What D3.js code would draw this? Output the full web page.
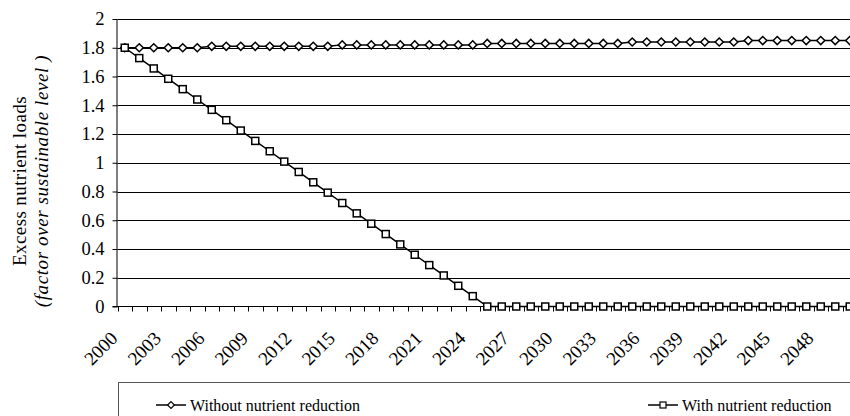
<!DOCTYPE html>
<html>
<head>
<meta charset="utf-8">
<script src="https://cdn.jsdelivr.net/npm/d3@7/dist/d3.min.js"></script>
<style>
  html, body { margin: 0; padding: 0; background: #fff; }
  text { font-family: "Liberation Serif", "Times New Roman", Times, serif; }
</style>
</head>
<body>
<svg id="chart" width="850" height="416"></svg>
<script>
// Years on the category axis
const years = [2000,2001,2002,2003,2004,2005,2006,2007,2008,2009,2010,2011,2012,2013,2014,2015,2016,2017,2018,2019,2020,2021,2022,2023,2024,2025,2026,2027,2028,2029,2030,2031,2032,2033,2034,2035,2036,2037,2038,2039,2040,2041,2042,2043,2044,2045,2046,2047,2048,2049,2050];

// Excess nutrient loads, no reduction measures
const withoutReduction = [1.80,1.80,1.80,1.80,1.80,1.80,1.81,1.81,1.81,1.81,1.81,1.81,1.81,1.81,1.81,1.82,1.82,1.82,1.82,1.82,1.82,1.82,1.82,1.82,1.82,1.83,1.83,1.83,1.83,1.83,1.83,1.83,1.83,1.83,1.83,1.84,1.84,1.84,1.84,1.84,1.84,1.84,1.84,1.85,1.85,1.85,1.85,1.85,1.85,1.85,1.85];

// Excess nutrient loads, with reduction measures
const withReduction = [1.800,1.728,1.656,1.584,1.512,1.440,1.368,1.296,1.224,1.152,1.080,1.008,0.936,0.864,0.792,0.720,0.648,0.576,0.504,0.432,0.360,0.288,0.216,0.144,0.072,0,0,0,0,0,0,0,0,0,0,0,0,0,0,0,0,0,0,0,0,0,0,0,0,0,0];

const yTicks = [0,0.2,0.4,0.6,0.8,1,1.2,1.4,1.6,1.8,2];
const xLabelYears = [2000,2003,2006,2009,2012,2015,2018,2021,2024,2027,2030,2033,2036,2039,2042,2045,2048];

const seriesNames = ["Without nutrient reduction", "With nutrient reduction"];

const svg = d3.select("#chart");

const plotLeft = 117.5, bandW = 14.5;
const x = d3.scaleBand().domain(years).range([plotLeft, plotLeft + bandW * years.length]).padding(0);
const y = d3.scaleLinear().domain([0, 2]).range([306.5, 19]);
const cx = d => x(d) + x.bandwidth() / 2;

// Horizontal gridlines
svg.append("g")
  .selectAll("line")
  .data(yTicks.filter(t => t > 0))
  .join("line")
  .attr("x1", plotLeft).attr("x2", x.range()[1])
  .attr("y1", d => Math.round(y(d)) + 0.5).attr("y2", d => Math.round(y(d)) + 0.5)
  .attr("stroke", "#000").attr("stroke-width", 1);

// Y axis
const yAxis = d3.axisLeft(y).tickValues(yTicks).tickSize(5).tickPadding(8)
  .tickFormat(d => d3.format("~g")(d));
const gy = svg.append("g").attr("transform", `translate(${plotLeft},0)`).call(yAxis)
  .attr("font-family", null).attr("font-size", null);
gy.select(".domain").attr("stroke", "#000").attr("d", `M-0.5,${y(2)}V${y(0)}`);
gy.selectAll(".tick line").attr("stroke", "#000");
gy.selectAll(".tick text").attr("font-size", 18.5).attr("fill", "#000");

// X axis with ticks between categories
const gx = svg.append("g").attr("transform", `translate(0,${y(0)})`);
gx.append("line").attr("x1", plotLeft - 5).attr("x2", x.range()[1])
  .attr("y1", 0).attr("y2", 0).attr("stroke", "#000");
gx.selectAll("line.tk")
  .data(years.concat([2051]))
  .join("line")
  .attr("class", "tk")
  .attr("x1", (d, i) => Math.round(plotLeft + i * bandW) + 0.5)
  .attr("x2", (d, i) => Math.round(plotLeft + i * bandW) + 0.5)
  .attr("y1", 0).attr("y2", 5).attr("stroke", "#000");
gx.selectAll("text")
  .data(xLabelYears)
  .join("text")
  .attr("transform", d => `translate(${cx(d) - 6},${33}) rotate(-45)`)
  .attr("text-anchor", "end")
  .attr("font-size", 19)
  .attr("fill", "#000")
  .text(d => d);

// Y axis title
const title = svg.append("text")
  .attr("transform", "translate(0,181) rotate(-90)")
  .attr("text-anchor", "middle")
  .attr("font-size", 19)
  .attr("fill", "#000");
title.append("tspan").attr("x", 0).attr("y", 26).attr("letter-spacing", 0.4).text("Excess nutrient loads");
title.append("tspan").attr("x", 0).attr("y", 48).attr("font-style", "italic")
  .attr("letter-spacing", 0.6).text("(factor over sustainable level )");

// Lines
const line = d3.line().x((d, i) => cx(years[i])).y(d => y(d));
const plot = svg.append("g");
[withoutReduction, withReduction].forEach(s => {
  plot.append("path").datum(s).attr("d", line)
    .attr("fill", "none").attr("stroke", "#000").attr("stroke-width", 1.5);
});

// Markers
const diamond = d3.symbol().type(d3.symbolDiamond2).size(42);
plot.append("g").selectAll("path")
  .data(withoutReduction)
  .join("path")
  .attr("d", diamond)
  .attr("transform", (d, i) => `translate(${cx(years[i])},${y(d)})`)
  .attr("fill", "#fff").attr("stroke", "#000").attr("stroke-width", 1.5);

plot.append("g").selectAll("rect")
  .data(withReduction)
  .join("rect")
  .attr("x", (d, i) => cx(years[i]) - 3.5)
  .attr("y", d => y(d) - 3.5)
  .attr("width", 7).attr("height", 7)
  .attr("fill", "#fff").attr("stroke", "#000").attr("stroke-width", 1.5);

// Legend
const lg = svg.append("g");
lg.append("rect").attr("x", 118.5).attr("y", 382.5).attr("width", 760).attr("height", 60)
  .attr("fill", "#fff").attr("stroke", "#555").attr("stroke-width", 1);

const legendItems = [
  { name: seriesNames[0], x0: 156, type: "diamond" },
  { name: seriesNames[1], x0: 648, type: "square" }
];
const ly = 405;
legendItems.forEach(it => {
  lg.append("line").attr("x1", it.x0).attr("x2", it.x0 + 30).attr("y1", ly).attr("y2", ly)
    .attr("stroke", "#000").attr("stroke-width", 1.5);
  if (it.type === "diamond") {
    lg.append("path").attr("d", d3.symbol().type(d3.symbolDiamond2).size(30)())
      .attr("transform", `translate(${it.x0 + 15},${ly})`)
      .attr("fill", "#fff").attr("stroke", "#000").attr("stroke-width", 1.2);
  } else {
    lg.append("rect").attr("x", it.x0 + 12).attr("y", ly - 3).attr("width", 6).attr("height", 6)
      .attr("fill", "#fff").attr("stroke", "#000").attr("stroke-width", 1.2);
  }
  lg.append("text").attr("x", it.x0 + 34).attr("y", ly + 6)
    .attr("font-size", 16).attr("fill", "#000").text(it.name);
});
</script>
</body>
</html>
